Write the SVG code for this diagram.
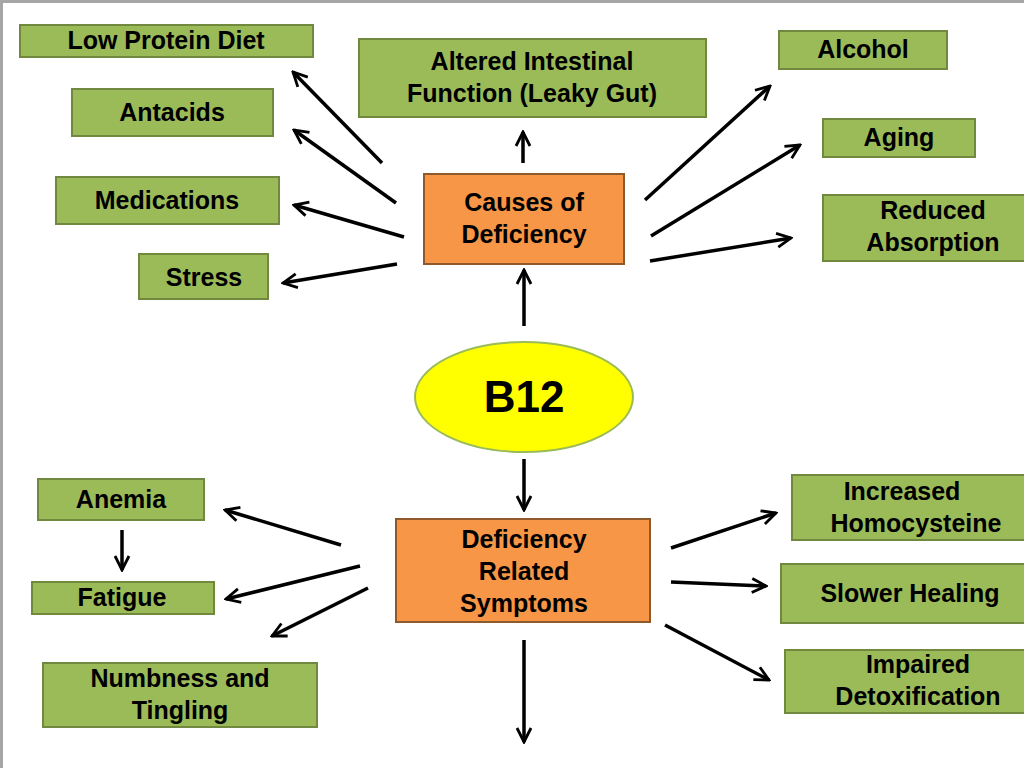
<svg xmlns="http://www.w3.org/2000/svg" width="1024" height="768" viewBox="0 0 1024 768">
<style>
.g{fill:#9bbb59;stroke:#71893f;stroke-width:2}
.o{fill:#f79646;stroke:#8e5a2c;stroke-width:2}
text{font-family:"Liberation Sans",Arial,sans-serif;font-weight:bold;font-size:25px;fill:#000;text-anchor:middle}
.c line{stroke:#000;stroke-width:3.5;marker-end:url(#a)}
</style>
<defs><marker id="a" viewBox="0 0 10 10" refX="9" refY="5" markerWidth="5" markerHeight="5" orient="auto" markerUnits="strokeWidth"><polyline points="1,1 9,5 1,9" fill="none" stroke="#000" stroke-width="1.6"/></marker></defs>
<rect width="1024" height="768" fill="#fff"/>
<path d="M1.5 768V1.5H1024" fill="none" stroke="#a6a6a6" stroke-width="3"/>
<g id="lowprotein"><rect class="g" x="20" y="25" width="293" height="32"/><text x="166" y="49">Low Protein Diet</text></g>
<g id="antacids"><rect class="g" x="72" y="89" width="201" height="47"/><text x="172" y="121">Antacids</text></g>
<g id="medications"><rect class="g" x="56" y="177" width="223" height="47"/><text x="167" y="209">Medications</text></g>
<g id="stress"><rect class="g" x="139" y="254" width="129" height="45"/><text x="204" y="286">Stress</text></g>
<g id="altered"><rect class="g" x="359" y="39" width="347" height="78"/><text x="532" y="70">Altered Intestinal</text><text x="532" y="102">Function (Leaky Gut)</text></g>
<g id="alcohol"><rect class="g" x="779" y="31" width="168" height="38"/><text x="863" y="58">Alcohol</text></g>
<g id="aging"><rect class="g" x="823" y="119" width="152" height="38"/><text x="899" y="146">Aging</text></g>
<g id="reduced"><rect class="g" x="823" y="195" width="210" height="66"/><text x="933" y="219">Reduced</text><text x="933" y="251">Absorption</text></g>
<g id="causes"><rect class="o" x="424" y="174" width="200" height="90"/><text x="524" y="211">Causes of</text><text x="524" y="243">Deficiency</text></g>
<g id="b12"><ellipse cx="524" cy="397" rx="109" ry="55" fill="#ffff00" stroke="#9bbb59" stroke-width="2"/><text x="524" y="412" style="font-size:44px">B12</text></g>
<g id="symptoms"><rect class="o" x="396" y="519" width="254" height="103"/><text x="524" y="548">Deficiency</text><text x="524" y="580">Related</text><text x="524" y="612">Symptoms</text></g>
<g id="anemia"><rect class="g" x="38" y="479" width="166" height="41"/><text x="121" y="508">Anemia</text></g>
<g id="fatigue"><rect class="g" x="32" y="582" width="182" height="32"/><text x="122" y="606">Fatigue</text></g>
<g id="numbness"><rect class="g" x="43" y="663" width="274" height="64"/><text x="180" y="687">Numbness and</text><text x="180" y="719">Tingling</text></g>
<g id="homocysteine"><rect class="g" x="792" y="475" width="245" height="65"/><text x="902" y="500">Increased</text><text x="916" y="532">Homocysteine</text></g>
<g id="healing"><rect class="g" x="781" y="564" width="250" height="59"/><text x="910" y="602">Slower Healing</text></g>
<g id="detox"><rect class="g" x="785" y="650" width="245" height="63"/><text x="918" y="673">Impaired</text><text x="918" y="705">Detoxification</text></g>
<g class="c">
<line x1="382" y1="163" x2="293" y2="72"/>
<line x1="396" y1="203" x2="294" y2="130"/>
<line x1="404" y1="237" x2="294" y2="205"/>
<line x1="397" y1="264" x2="283" y2="283"/>
<line x1="523" y1="163" x2="523" y2="132"/>
<line x1="645" y1="200" x2="770" y2="86"/>
<line x1="651" y1="236" x2="800" y2="145"/>
<line x1="650" y1="261" x2="791" y2="238"/>
<line x1="524" y1="326" x2="524" y2="270"/>
<line x1="524" y1="459" x2="524" y2="510"/>
<line x1="524" y1="640" x2="524" y2="742"/>
<line x1="122" y1="530" x2="122" y2="570"/>
<line x1="341" y1="545" x2="225" y2="510"/>
<line x1="360" y1="566" x2="226" y2="599"/>
<line x1="368" y1="588" x2="272" y2="636"/>
<line x1="671" y1="548" x2="776" y2="513"/>
<line x1="671" y1="582" x2="766" y2="586"/>
<line x1="665" y1="625" x2="769" y2="680"/>
</g>
</svg>
